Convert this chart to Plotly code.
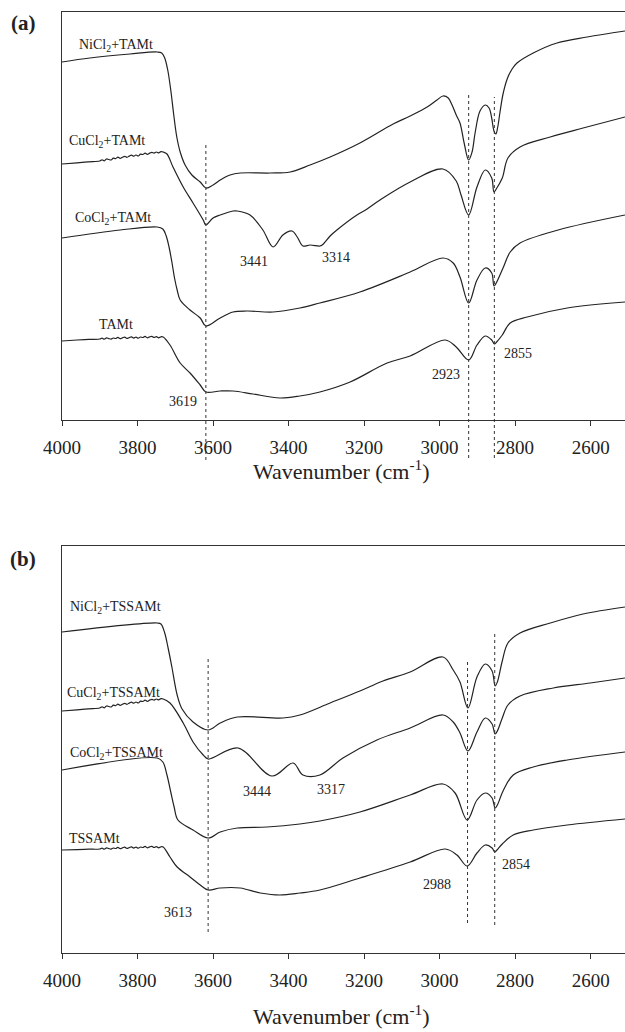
import plotly.graph_objects as go

W, H = 625, 1032

# ---------------- panel (a): TAMt series ----------------
wn_ni_a = [4000, 3926, 3820, 3748, 3736, 3728, 3720, 3712, 3704, 3696, 3687, 3674, 3656, 3634,
           3619, 3600, 3581, 3555, 3528, 3449, 3396, 3343, 3290, 3211, 3123, 3078, 3033, 3007,
           2991, 2977, 2967, 2956, 2946, 2935, 2923, 2914, 2906, 2893, 2879, 2869, 2862, 2856,
           2851, 2846, 2840, 2832, 2821, 2808, 2795, 2752, 2689, 2609, 2509]
t_ni_a = [358, 362, 366, 368, 367, 362, 350, 330, 305, 283, 268, 255, 245, 238,
          232, 235, 240, 245, 247, 247, 248, 255, 263, 277, 296, 304, 313, 320,
          324, 322, 315, 305, 297, 277, 260, 268, 287, 309, 315, 312, 302, 289,
          286, 293, 308, 326, 341, 351, 357, 367, 377, 383, 389]

wn_cu_a = [4000, 3960, 3930,
           3900, 3894, 3888, 3882, 3876, 3870, 3864, 3858, 3852, 3846, 3840, 3834, 3828, 3822,
           3816, 3810, 3804, 3798, 3792, 3786, 3780, 3774, 3768, 3762, 3756, 3750, 3744, 3738,
           3732, 3722, 3706, 3679, 3653, 3626, 3619, 3600, 3581, 3547, 3536, 3502, 3468, 3441,
           3415, 3391, 3377, 3362, 3343, 3317, 3311, 3290, 3272, 3219, 3192, 3158, 3078, 2991,
           2956, 2944, 2923, 2901, 2879, 2862, 2856, 2850, 2834, 2819, 2787, 2707, 2620, 2509]
t_cu_a = [256, 257.2, 258.2,
          259.0, 260.1, 259.2, 261.0, 260.5, 260.0, 261.8, 261.4, 262.8, 261.6, 262.8, 263.6, 262.7, 263.9,
          264.8, 263.8, 265.0, 264.0, 265.8, 265.5, 266.8, 265.7, 266.9, 267.6, 266.9, 268.0, 267.1, 268.3,
          268.0, 266, 253, 233, 217, 200, 195, 202, 205, 209, 209, 205, 190, 173,
          185, 189, 183, 174, 175, 174, 175, 184, 190, 205, 211, 220, 238, 251,
          239, 226, 205, 233, 250, 242, 228, 231, 242, 262, 273, 283, 292, 303]

wn_co_a = [4000, 3846, 3748, 3733, 3724, 3716, 3709, 3702, 3695, 3687, 3661, 3634, 3619, 3581,
           3547, 3510, 3441, 3370, 3317, 3211, 3078, 2991, 2964, 2946, 2923, 2901, 2879, 2862,
           2856, 2850, 2832, 2813, 2787, 2686, 2509]
t_co_a = [182, 190, 193, 191, 184, 172, 158, 142, 130, 120, 110, 102, 94, 102,
          108, 109, 108, 112, 117, 128, 148, 162, 157, 143, 117, 140, 152, 147,
          134, 137, 152, 168, 177, 190, 205]

wn_tam = [4000, 3960, 3930,
          3900, 3894, 3888, 3882, 3876, 3870, 3864, 3858, 3852, 3846, 3840, 3834, 3828, 3822,
          3816, 3810, 3804, 3798, 3792, 3786, 3780, 3774, 3768, 3762, 3756, 3750, 3744, 3738,
          3732, 3714, 3687, 3661, 3634, 3619, 3581, 3547, 3494, 3423, 3370, 3317, 3237, 3139,
          3078, 2985, 2956, 2923, 2901, 2879, 2862, 2855, 2849, 2834, 2813, 2768, 2662, 2509]
t_tam = [79, 80, 80.6,
         81.0, 81.9, 80.8, 82.1, 81.4, 80.9, 82.0, 81.5, 82.6, 81.3, 82.1, 82.9, 81.6, 82.4,
         83.1, 81.9, 82.9, 81.8, 83.0, 82.5, 83.6, 82.2, 83.1, 83.6, 82.5, 83.4, 82.2, 83.2,
         83.0, 75, 57, 47, 35, 28, 29, 29, 26, 22, 24, 28, 38, 57,
         64, 80, 73, 60, 75, 84, 80, 76, 78, 85, 97, 103, 112, 118]

# ---------------- panel (b): TSSAMt series ----------------
wn_ni_b = [4000, 3748, 3738, 3728, 3719, 3709, 3695, 3682, 3653, 3613, 3581, 3536, 3415, 3370,
           3290, 3211, 3150, 3078, 2991, 2964, 2946, 2925, 2901, 2879, 2861, 2853, 2847, 2834,
           2819, 2787, 2707, 2620, 2509]
t_ni_b = [321, 330, 329, 320, 305, 286, 258, 244, 231, 223, 230, 236, 235, 238,
          250, 262, 272, 281, 296, 283, 271, 245, 276, 289, 282, 267, 271, 292,
          310, 320, 330, 339, 346]

wn_cu_b = [4000, 3960, 3930,
           3900, 3894, 3888, 3882, 3876, 3870, 3864, 3858, 3852, 3846, 3840, 3834, 3828, 3822,
           3816, 3810, 3804, 3798, 3792, 3786, 3780, 3774, 3768, 3762, 3756, 3750, 3744, 3738,
           3732, 3714, 3679, 3653, 3626, 3613, 3534, 3444, 3388, 3362, 3317, 3256, 3166, 3078,
           2991, 2964, 2946, 2925, 2901, 2879, 2861, 2853, 2847, 2834, 2819, 2787, 2699, 2601,
           2509]
t_cu_b = [242, 243.2, 244.2,
          245.0, 246.1, 245.2, 247.0, 246.5, 246.0, 247.8, 247.4, 248.8, 247.6, 248.8, 249.6, 248.7, 249.9,
          250.8, 249.8, 251.0, 250.0, 251.8, 251.5, 252.8, 251.7, 252.9, 253.6, 252.9, 254.0, 253.1, 254.3,
          254.0, 250, 230, 211, 198, 194, 205, 177, 190, 178, 178, 195, 213, 225,
          238, 231, 220, 202, 221, 235, 229, 219, 222, 235, 248, 257, 265, 270,
          275]

wn_co_b = [4000, 3748, 3733, 3722, 3712, 3703, 3693, 3653, 3613, 3581, 3536, 3457, 3370, 3317,
           3211, 3078, 2991, 2959, 2927, 2901, 2879, 2861, 2853, 2847, 2832, 2805, 2752, 2662,
           2509]
t_co_b = [183, 195, 191, 178, 161, 146, 133, 123, 115, 121, 125, 126, 129, 132,
          141, 158, 169, 160, 133, 153, 160, 155, 145, 148, 162, 178, 186, 193,
          201]

wn_tss = [4000, 3960, 3930,
          3900, 3894, 3888, 3882, 3876, 3870, 3864, 3858, 3852, 3846, 3840, 3834, 3828, 3822,
          3816, 3810, 3804, 3798, 3792, 3786, 3780, 3774, 3768, 3762, 3756, 3750, 3744, 3738,
          3732, 3714, 3695, 3661, 3634, 3613, 3581, 3528, 3475, 3423, 3370, 3317, 3211, 3078,
          2985, 2954, 2927, 2901, 2879, 2861, 2854, 2848, 2834, 2805, 2752, 2662, 2509]
t_tss = [103, 103.4, 103.8,
         104.0, 104.9, 103.8, 105.1, 104.4, 103.9, 105.0, 104.5, 105.6, 104.3, 105.1, 105.9, 104.6, 105.4,
         106.1, 104.9, 105.9, 104.8, 106.0, 105.5, 106.6, 105.2, 106.1, 106.6, 105.5, 106.4, 105.2, 106.2,
         106.0, 96, 86, 76, 68, 63, 65, 65, 60, 58, 60, 63, 75, 91,
         104, 98, 87, 100, 108, 105, 101, 103, 109, 118, 123, 128, 134]

# curve captions and band labels
names_a = ["NiCl<sub>2</sub>+TAMt", "CuCl<sub>2</sub>+TAMt", "CoCl<sub>2</sub>+TAMt", "TAMt"]
names_b = ["NiCl<sub>2</sub>+TSSAMt", "CuCl<sub>2</sub>+TSSAMt", "CoCl<sub>2</sub>+TSSAMt", "TSSAMt"]
bands_a = ["3619", "3441", "3314", "2923", "2855"]
bands_b = ["3613", "3444", "3317", "2988", "2854"]
guides_a = [3619, 2923, 2855]
guides_b = [3613, 2926, 2854]
ticks = [4000, 3800, 3600, 3400, 3200, 3000, 2800, 2600]

INK = "#222222"
SERIF = "Liberation Serif"


def py(px):
    return 1 - px / H


fig = go.Figure()
panel_a = [(wn_ni_a, t_ni_a), (wn_cu_a, t_cu_a), (wn_co_a, t_co_a), (wn_tam, t_tam)]
panel_b = [(wn_ni_b, t_ni_b), (wn_cu_b, t_cu_b), (wn_co_b, t_co_b), (wn_tss, t_tss)]
line_style = dict(color=INK, width=1.2, shape="spline", smoothing=1.0)
for xs, ys in panel_a:
    fig.add_trace(go.Scatter(x=xs, y=ys, mode="lines", xaxis="x", yaxis="y", line=line_style,
                             showlegend=False, hoverinfo="skip"))
for xs, ys in panel_b:
    fig.add_trace(go.Scatter(x=xs, y=ys, mode="lines", xaxis="x2", yaxis="y2", line=line_style,
                             showlegend=False, hoverinfo="skip"))

xdom = [62 / W, 1.0]
axis_common = dict(range=[4000, 2509], showgrid=False, zeroline=False, showline=True,
                   linecolor="#333333", linewidth=1, mirror=True, ticks="outside",
                   ticklen=5, tickwidth=1, tickcolor="#333333", tickvals=ticks,
                   ticklabelstandoff=5, automargin=False,
                   tickfont=dict(family=SERIF, size=19, color=INK), domain=xdom)
yaxis_common = dict(showgrid=False, zeroline=False, showline=True, linecolor="#333333",
                    linewidth=1, showticklabels=False, ticks="", automargin=False)

fig.update_layout(
    width=W, height=H, margin=dict(l=0, r=0, t=0, b=0, pad=0, autoexpand=False),
    paper_bgcolor="white", plot_bgcolor="white", showlegend=False,
    xaxis=dict(anchor="y", **axis_common),
    xaxis2=dict(anchor="y2", **axis_common),
    yaxis=dict(domain=[py(420), py(12)], range=[0, 408], anchor="x", **yaxis_common),
    yaxis2=dict(domain=[py(953), py(546)], range=[0, 407], anchor="x2", **yaxis_common),
)

ann = []
# panel tags
for tag, ypx in (("<b>(a)</b>", 23), ("<b>(b)</b>", 559)):
    ann.append(dict(text=tag, x=23 / W, y=py(ypx), xref="paper", yref="paper",
                    xanchor="center", yanchor="middle", showarrow=False,
                    font=dict(family=SERIF, size=21, color=INK)))
# axis titles (bottom edge of each text box)
for ypx in (486, 1031):
    ann.append(dict(text="Wavenumber (cm<sup>-1</sup>)", x=341 / W, y=py(ypx),
                    xref="paper", yref="paper", xanchor="center", yanchor="bottom",
                    showarrow=False, font=dict(family=SERIF, size=22, color=INK)))

# curve captions (left aligned)
cap_pos_a = [(3960, 375), (3987, 279), (3971, 202), (3907, 96)]
cap_pos_b = [(3984, 346), (3992, 260), (3984, 200), (3987, 115)]
for name, (x, y) in zip(names_a, cap_pos_a):
    ann.append(dict(text=name, x=x, y=y, xref="x", yref="y", xanchor="left", yanchor="middle",
                    showarrow=False, font=dict(family=SERIF, size=14, color=INK)))
for name, (x, y) in zip(names_b, cap_pos_b):
    ann.append(dict(text=name, x=x, y=y, xref="x2", yref="y2", xanchor="left", yanchor="middle",
                    showarrow=False, font=dict(family=SERIF, size=14, color=INK)))

# band labels
band_pos_a = [(3679, 19), (3491, 159), (3274, 163), (2983, 46), (2792, 67)]
band_pos_b = [(3693, 41), (3483, 162), (3287, 164), (3007, 69), (2797, 89)]
for lab, (x, y) in zip(bands_a, band_pos_a):
    ann.append(dict(text=lab, x=x, y=y, xref="x", yref="y", xanchor="center", yanchor="middle",
                    showarrow=False, font=dict(family=SERIF, size=14, color=INK)))
for lab, (x, y) in zip(bands_b, band_pos_b):
    ann.append(dict(text=lab, x=x, y=y, xref="x2", yref="y2", xanchor="center", yanchor="middle",
                    showarrow=False, font=dict(family=SERIF, size=14, color=INK)))
fig.update_layout(annotations=ann)

# dotted guide lines through the band positions
shapes = []
spans_a = [(145, 460), (94, 458), (97, 458)]
spans_b = [(659, 932), (661, 923), (632, 925)]
for g, (top, bot) in zip(guides_a, spans_a):
    shapes.append(dict(type="line", xref="x", yref="paper", x0=g, x1=g, y0=py(bot), y1=py(top),
                       line=dict(color="#333333", width=1, dash="dot")))
for g, (top, bot) in zip(guides_b, spans_b):
    shapes.append(dict(type="line", xref="x2", yref="paper", x0=g, x1=g, y0=py(bot), y1=py(top),
                       line=dict(color="#333333", width=1, dash="dot")))
fig.update_layout(shapes=shapes)

fig.write_html("out.html")
